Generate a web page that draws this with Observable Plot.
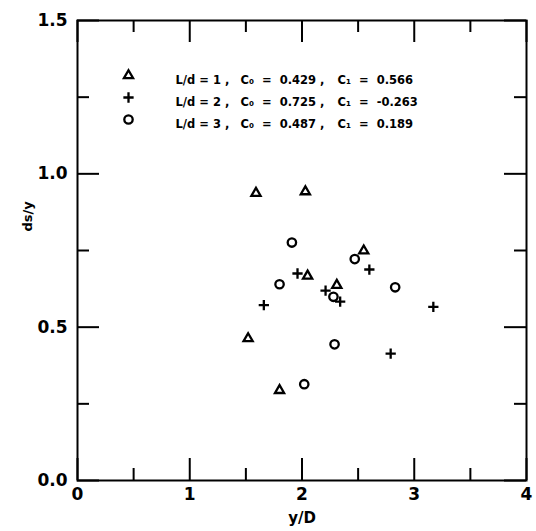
<!DOCTYPE html>
<html>
<head>
<meta charset="utf-8">
<script src="https://cdn.jsdelivr.net/npm/d3@7"></script>
<script src="https://cdn.jsdelivr.net/npm/@observablehq/plot@0.6"></script>
<style>
  html, body { margin: 0; padding: 0; background: #fff; }
  #chart svg { display: block; }
</style>
</head>
<body>
<div id="chart"></div>
<script>
// Data
const triX = [1.59, 2.03, 2.55, 2.05, 2.31, 1.52, 1.80];
const triY = [0.937, 0.942, 0.749, 0.667, 0.637, 0.463, 0.294];
const plusX = [1.96, 2.60, 1.66, 2.21, 2.34, 3.17, 2.79];
const plusY = [0.675, 0.688, 0.572, 0.619, 0.583, 0.566, 0.414];
const circX = [1.91, 1.80, 2.47, 2.28, 2.83, 2.29, 2.02];
const circY = [0.776, 0.640, 0.722, 0.599, 0.630, 0.444, 0.314];

const seriesSymbols = ["triangle", "plus", "circle"];
const legendLd = ["L/d = 1 ,", "L/d = 2 ,", "L/d = 3 ,"];
const legendC0 = ["C\u2080  =  0.429 ,", "C\u2080  =  0.725 ,", "C\u2080  =  0.487 ,"];
const legendC1 = ["C\u2081  =  0.566", "C\u2081  =  -0.263", "C\u2081  =  0.189"];

const xMajor = [0, 1, 2, 3, 4];
const xMinor = [0.5, 1.5, 2.5, 3.5];
const yMajor = [0, 0.5, 1.0, 1.5];
const yMinor = [0.25, 0.75, 1.25];
const xLabel = "y/D";
const yLabel = "ds/y";

const series = [[triX, triY], [plusX, plusY], [circX, circY]];
const points = series.flatMap(([xs, ys], i) => xs.map((x, j) => ({x, y: ys[j], s: i})));

const W = 536, H = 531;
const mt = 20, mr = 10, mb = 51, ml = 77;
const fh = H - mt - mb, fw = W - ml - mr;
const major = 22, minor = 12;
const font = "'DejaVu Sans', Arial, sans-serif";
const symR = {triangle: 3.4, plus: 3.4, circle: 4.2};

const marks = [];
marks.push(Plot.frame({stroke: "#000", strokeWidth: 2}));
const tick = (isX, vals, len) => {
  if (isX) {
    marks.push(Plot.ruleX(vals, {x: d => d, insetTop: fh - len, stroke: "#000", strokeWidth: 2}));
    marks.push(Plot.ruleX(vals, {x: d => d, insetBottom: fh - len, stroke: "#000", strokeWidth: 2}));
  } else {
    marks.push(Plot.ruleY(vals, {y: d => d, insetRight: fw - len, stroke: "#000", strokeWidth: 2}));
    marks.push(Plot.ruleY(vals, {y: d => d, insetLeft: fw - len, stroke: "#000", strokeWidth: 2}));
  }
};
tick(true, xMajor, major); tick(true, xMinor, minor);
tick(false, yMajor, major); tick(false, yMinor, minor);

marks.push(Plot.axisX(xMajor, {tickSize: 0, tickPadding: 7, fontSize: 17, fontWeight: "bold", tickFormat: d3.format("d"), label: null}));
marks.push(Plot.axisY(yMajor, {tickSize: 0, tickPadding: 10, fontSize: 17, fontWeight: "bold", tickFormat: d3.format(".1f"), label: null}));

marks.push(Plot.text([xLabel], {text: d => d, frameAnchor: "bottom", dy: 42, fontSize: 15, fontWeight: "bold"}));
marks.push(Plot.text([yLabel], {text: d => d, frameAnchor: "left", dx: -50, dy: -19, rotate: -90, fontSize: 13, fontWeight: "bold"}));

seriesSymbols.forEach((sym, i) => {
  marks.push(Plot.dot(points.filter(p => p.s === i), {
    x: "x", y: "y", symbol: () => sym, r: symR[sym],
    stroke: "#000", strokeWidth: 2.3, fill: "none"
  }));
});

const rowDy = [55, 77, 99];
const colDx = [98, 163, 260];
seriesSymbols.forEach((sym, i) => {
  marks.push(Plot.dot([sym], {symbol: d => d, frameAnchor: "top-left", dx: 51, dy: rowDy[i],
    r: symR[sym], stroke: "#000", strokeWidth: 2.3, fill: "none"}));
  [legendLd, legendC0, legendC1].forEach((arr, k) => {
    marks.push(Plot.text([arr[i]], {text: d => d, frameAnchor: "top-left", dx: colDx[k], dy: rowDy[i],
      textAnchor: "start", fontSize: 11.5, fontWeight: "bold"}));
  });
});

const chart = Plot.plot({
  width: W, height: H,
  marginTop: mt, marginRight: mr, marginBottom: mb, marginLeft: ml,
  x: {domain: [0, 4]},
  y: {domain: [0, 1.5]},
  symbol: {type: "identity"},
  style: {fontFamily: font, color: "#000", background: "#fff", overflow: "visible"},
  marks
});
d3.select(chart).selectAll("text").style("white-space", "pre");
document.getElementById("chart").appendChild(chart);
</script>
</body>
</html>
